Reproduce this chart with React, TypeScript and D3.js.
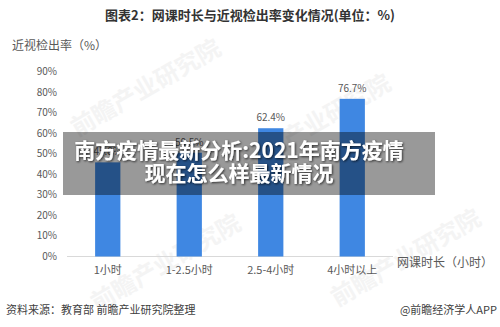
import React from "react";
import * as d3 from "d3";

const categories = ["1小时", "1-2.5小时", "2.5-4小时", "4小时以上"];
const values = [45.8, 50.5, 62.4, 76.7];
const yTicks = [0, 10, 20, 30, 40, 50, 60, 70, 80, 90];
const titleText = "图表2：网课时长与近视检出率变化情况(单位：%)";
const yAxisTitle = "近视检出率（%）";
const xAxisTitle = "网课时长（小时）";
const sourceText = "资料来源：教育部 前瞻产业研究院整理";
const brandText = "@前瞻经济学人APP";
const overlayLines = ["南方疫情最新分析:2021年南方疫情", "现在怎么样最新情况"];
const watermarks = [
  { x: 150, y: 95 },
  { x: 320, y: 130 },
  { x: 170, y: 270 },
  { x: 410, y: 265 },
];

const W = 500;
const H = 327;
const FONT = "'Noto Sans CJK SC', 'Noto Sans', sans-serif";

export default function App() {
  const x = d3
    .scaleBand<string>()
    .domain(categories)
    .range([67, 393])
    .paddingInner(0.69)
    .paddingOuter(0.345);
  const y = d3.scaleLinear().domain([0, 90]).range([256.5, 71.5]);

  return (
    <svg
      width={W}
      height={H}
      viewBox={`0 0 ${W} ${H}`}
      style={{ position: "absolute", left: 0, top: 0, background: "#fff" }}
      fontFamily={FONT}
    >
      <defs>
        <filter id="shadow" x="-10%" y="-30%" width="120%" height="160%">
          <feDropShadow dx="1" dy="1" stdDeviation="1" floodColor="#000" floodOpacity="0.7" />
        </filter>
      </defs>
      <rect x={0} y={0} width={W} height={H} fill="#fff" />

      {watermarks.map((w, i) => (
        <text
          key={i}
          x={w.x}
          y={w.y}
          textAnchor="middle"
          fontSize={24}
          fontWeight="bold"
          fill="#f4f4f4"
          transform={`rotate(-30 ${w.x} ${w.y})`}
        >
          前瞻产业研究院
        </text>
      ))}

      <text x={250} y={20} textAnchor="middle" fontSize={13} fontWeight="bold" fill="#333">
        {titleText}
      </text>

      <text x={12} y={50} fontSize={12} fill="#595959">
        {yAxisTitle}
      </text>

      {yTicks.map((t) => (
        <text
          key={t}
          x={57}
          y={y(t)}
          dy="0.35em"
          textAnchor="end"
          fontSize={10}
          fill="#595959"
        >
          {t}%
        </text>
      ))}

      <line x1={67} x2={393} y1={y(0)} y2={y(0)} stroke="#d9d9d9" strokeWidth={1} />

      {categories.map((c, i) => (
        <g key={c}>
          <rect
            x={x(c)}
            y={y(values[i])}
            width={x.bandwidth()}
            height={y(0) - y(values[i])}
            fill="#3f87e2"
          />
          <text
            x={(x(c) as number) + x.bandwidth() / 2}
            y={y(values[i]) - 7}
            textAnchor="middle"
            fontSize={10}
            fill="#595959"
          >
            {values[i]}%
          </text>
          <text
            x={(x(c) as number) + x.bandwidth() / 2}
            y={274}
            textAnchor="middle"
            fontSize={11}
            fill="#595959"
          >
            {c}
          </text>
        </g>
      ))}

      <text x={397} y={267} fontSize={12} fill="#595959">
        {xAxisTitle}
      </text>

      <text x={6} y={314} fontSize={11} fill="#404040">
        {sourceText}
      </text>
      <text x={497} y={314} textAnchor="end" fontSize={11} fill="#404040">
        {brandText}
      </text>

      <rect x={63} y={132} width={372} height={63} fill="#000" opacity={0.4} />
      {overlayLines.map((l, i) => (
        <text
          key={i}
          x={239}
          y={158 + i * 23}
          textAnchor="middle"
          fontSize={21}
          fontWeight="bold"
          fill="#fff"
          filter="url(#shadow)"
        >
          {l}
        </text>
      ))}
    </svg>
  );
}
